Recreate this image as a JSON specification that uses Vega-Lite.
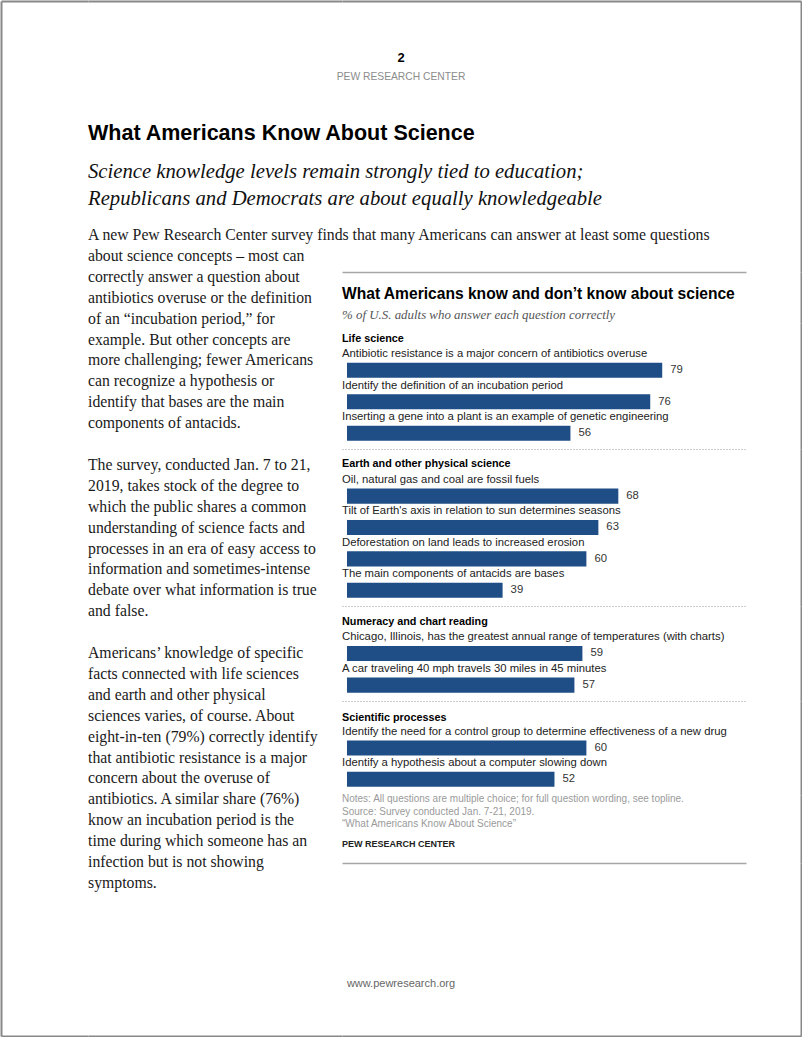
{
  "$schema": "https://vega.github.io/schema/vega-lite/v6.json",
  "padding": 1,
  "background": "white",
  "autosize": {"type": "pad"},
  "datasets": {
    "none": [],
    "body": [
      {"line": 0, "text": "A new Pew Research Center survey finds that many Americans can answer at least some questions"},
      {"line": 1, "text": "about science concepts – most can"},
      {"line": 2, "text": "correctly answer a question about"},
      {"line": 3, "text": "antibiotics overuse or the definition"},
      {"line": 4, "text": "of an “incubation period,” for"},
      {"line": 5, "text": "example. But other concepts are"},
      {"line": 6, "text": "more challenging; fewer Americans"},
      {"line": 7, "text": "can recognize a hypothesis or"},
      {"line": 8, "text": "identify that bases are the main"},
      {"line": 9, "text": "components of antacids."},
      {"line": 11, "text": "The survey, conducted Jan. 7 to 21,"},
      {"line": 12, "text": "2019, takes stock of the degree to"},
      {"line": 13, "text": "which the public shares a common"},
      {"line": 14, "text": "understanding of science facts and"},
      {"line": 15, "text": "processes in an era of easy access to"},
      {"line": 16, "text": "information and sometimes-intense"},
      {"line": 17, "text": "debate over what information is true"},
      {"line": 18, "text": "and false."},
      {"line": 20, "text": "Americans’ knowledge of specific"},
      {"line": 21, "text": "facts connected with life sciences"},
      {"line": 22, "text": "and earth and other physical"},
      {"line": 23, "text": "sciences varies, of course. About"},
      {"line": 24, "text": "eight-in-ten (79%) correctly identify"},
      {"line": 25, "text": "that antibiotic resistance is a major"},
      {"line": 26, "text": "concern about the overuse of"},
      {"line": 27, "text": "antibiotics. A similar share (76%)"},
      {"line": 28, "text": "know an incubation period is the"},
      {"line": 29, "text": "time during which someone has an"},
      {"line": 30, "text": "infection but is not showing"},
      {"line": 31, "text": "symptoms."}
    ],
    "qs": [
      {"group": "Life science", "q": "Antibiotic resistance is a major concern of antibiotics overuse", "value": 79},
      {"group": "Life science", "q": "Identify the definition of an incubation period", "value": 76},
      {"group": "Life science", "q": "Inserting a gene into a plant is an example of genetic engineering", "value": 56},
      {"group": "Earth and other physical science", "q": "Oil, natural gas and coal are fossil fuels", "value": 68},
      {"group": "Earth and other physical science", "q": "Tilt of Earth's axis in relation to sun determines seasons", "value": 63},
      {"group": "Earth and other physical science", "q": "Deforestation on land leads to increased erosion", "value": 60},
      {"group": "Earth and other physical science", "q": "The main components of antacids are bases", "value": 39},
      {"group": "Numeracy and chart reading", "q": "Chicago, Illinois, has the greatest annual range of temperatures (with charts)", "value": 59},
      {"group": "Numeracy and chart reading", "q": "A car traveling 40 mph travels 30 miles in 45 minutes", "value": 57},
      {"group": "Scientific processes", "q": "Identify the need for a control group to determine effectiveness of a new drug", "value": 60},
      {"group": "Scientific processes", "q": "Identify a hypothesis about a computer slowing down", "value": 52}
    ]
  },
  "config": {
    "view": {"stroke": null},
    "title": {"font": "Liberation Sans", "color": "#000000", "subtitleFont": "Liberation Sans"},
    "text": {"font": "Liberation Sans"}
  },
  "title": {"text": "2", "subtitle": "PEW RESEARCH CENTER", "orient": "top", "anchor": "middle", "offset": -81.3, "fontSize": 13, "fontWeight": "bold", "subtitleFontSize": 10.3, "subtitleColor": "#8c8c8c", "subtitlePadding": 7},
  "bounds": "flush",
  "spacing": 0,
  "hconcat": [
    {
      "width": 87, "height": 1035,
      "data": {"name": "none"},
      "layer": [
        {"mark": "rule", "encoding": {
          "x": {"field": "v", "type": "quantitative", "scale": {"domain": [0, 1]}, "axis": {"orient": "top", "domain": true, "domainColor": "#888888", "domainWidth": 2, "ticks": false, "labels": false, "grid": false, "title": null}},
          "y": {"field": "w", "type": "quantitative", "scale": {"domain": [0, 1]}, "axis": {"orient": "left", "domain": true, "domainColor": "#888888", "domainWidth": 2, "ticks": false, "labels": false, "grid": false, "title": null}}
        }},
        {"mark": "rule", "encoding": {
          "x": {"field": "v2", "type": "quantitative", "scale": {"domain": [0, 1]}, "axis": {"orient": "bottom", "domain": true, "domainColor": "#888888", "domainWidth": 2, "ticks": false, "labels": false, "grid": false, "title": null}}
        }}
      ],
      "resolve": {"scale": {"x": "independent"}, "axis": {"x": "independent"}}
    },
    {
      "width": 254, "height": 1035,
      "title": {"text": "What Americans Know About Science", "subtitle": ["Science knowledge levels remain strongly tied to education;", "Republicans and Democrats are about equally knowledgeable"], "orient": "top", "anchor": "start", "frame": "group", "offset": -207.2, "fontSize": 21.5, "fontWeight": "bold", "subtitleFont": "Liberation Serif", "subtitleFontStyle": "italic", "subtitleFontSize": 20.7, "subtitleLineHeight": 27, "subtitlePadding": 17.5, "subtitleColor": "#111111"},
      "layer": [
        {
          "data": {"name": "body"},
          "mark": {"type": "text", "align": "left", "baseline": "middle", "font": "Liberation Serif", "fontSize": 15.75, "color": "#1a1a1a"},
          "encoding": {
            "x": {"datum": 0, "type": "quantitative", "scale": {"domain": [0, 1]}, "axis": {"orient": "top", "domain": true, "domainColor": "#888888", "domainWidth": 2, "ticks": false, "labels": false, "grid": false, "title": null}},
            "y": {"field": "line", "type": "quantitative", "scale": {"domain": [-11.196, 38.325], "reverse": true, "nice": false, "zero": false}, "axis": null},
            "text": {"field": "text"}
          }
        },
        {
          "data": {"name": "none"},
          "mark": "rule",
          "encoding": {
            "x": {"field": "v2", "type": "quantitative", "scale": {"domain": [0, 1]}, "axis": {"orient": "bottom", "domain": true, "domainColor": "#888888", "domainWidth": 2, "ticks": false, "labels": false, "grid": false, "title": null}}
          }
        }
      ],
      "resolve": {"scale": {"x": "independent"}, "axis": {"x": "independent"}}
    },
    {
      "bounds": "flush",
      "spacing": 0,
      "vconcat": [
        {
          "width": 459, "height": 271,
          "data": {"name": "none"},
          "layer": [
            {"mark": "rule", "encoding": {
              "x": {"field": "v", "type": "quantitative", "scale": {"domain": [0, 1]}, "axis": {"orient": "top", "domain": true, "domainColor": "#888888", "domainWidth": 2, "ticks": false, "labels": false, "grid": false, "title": null}},
              "y": {"field": "w", "type": "quantitative", "scale": {"domain": [0, 1]}, "axis": {"orient": "right", "domain": true, "domainColor": "#888888", "domainWidth": 2, "ticks": false, "labels": false, "grid": false, "title": null}}
            }},
            {"mark": "rule", "encoding": {
              "x": {"field": "v2", "type": "quantitative", "scale": {"domain": [0, 1], "range": [0, 404]}, "axis": {"orient": "bottom", "domain": true, "domainColor": "#a6a6a6", "domainWidth": 1.5, "ticks": false, "labels": false, "grid": false, "title": null}}
            }}
          ],
          "resolve": {"scale": {"x": "independent"}, "axis": {"x": "independent"}}
        },
        {
          "width": 459, "height": 51,
          "data": {"name": "none"},
          "mark": "rule",
          "encoding": {
            "y": {"field": "w", "type": "quantitative", "scale": {"domain": [0, 1]}, "axis": {"orient": "right", "domain": true, "domainColor": "#888888", "domainWidth": 2, "ticks": false, "labels": false, "grid": false, "title": null}}
          },
          "title": {"text": "What Americans know and don’t know about science", "subtitle": "% of U.S. adults who answer each question correctly", "orient": "top", "anchor": "start", "frame": "group", "offset": -50.3, "fontSize": 15.6, "fontWeight": "bold", "subtitleFont": "Liberation Serif", "subtitleFontStyle": "italic", "subtitleFontSize": 12.9, "subtitleColor": "#555555", "subtitlePadding": 6.6}
        },
        {
          "width": 459, "height": 126,
          "data": {"name": "qs"},
          "transform": [{"filter": "datum.group === 'Life science'"}],
          "title": {"text": "Life science", "orient": "top", "anchor": "start", "frame": "group", "offset": -21.1, "fontSize": 10.8, "fontWeight": "bold"},
          "encoding": {"y": {"field": "q", "type": "nominal", "sort": null, "scale": {"paddingInner": 0.52, "paddingOuter": 0.76, "align": 0.8289}, "axis": {"orient": "right", "domain": true, "domainColor": "#888888", "domainWidth": 2, "ticks": false, "labels": false, "grid": false, "title": null}}},
          "layer": [
            {"mark": {"type": "bar", "color": "#1f4e86"}, "encoding": {"x": {"field": "value", "type": "quantitative", "scale": {"domain": [-1.25, 100], "range": [0, 404], "nice": false}, "axis": {"orient": "bottom", "domain": true, "domainColor": "#9a9a9a", "domainDash": [1, 2], "domainWidth": 1, "ticks": false, "labels": false, "title": null, "grid": false}}}},
            {"mark": {"type": "text", "align": "left", "baseline": "middle", "dy": -16, "fontSize": 11.3, "color": "#222222"}, "encoding": {"x": {"datum": -1.25, "type": "quantitative"}, "text": {"field": "q"}}},
            {"mark": {"type": "text", "align": "left", "baseline": "middle", "dx": 8, "fontSize": 11.3, "color": "#333333"}, "encoding": {"x": {"field": "value", "type": "quantitative"}, "text": {"field": "value"}}}
          ]
        },
        {
          "width": 459, "height": 157,
          "data": {"name": "qs"},
          "transform": [{"filter": "datum.group === 'Earth and other physical science'"}],
          "title": {"text": "Earth and other physical science", "orient": "top", "anchor": "start", "frame": "group", "offset": -20.1, "fontSize": 10.8, "fontWeight": "bold"},
          "encoding": {"y": {"field": "q", "type": "nominal", "sort": null, "scale": {"paddingInner": 0.52, "paddingOuter": 0.76, "align": 0.8289}, "axis": {"orient": "right", "domain": true, "domainColor": "#888888", "domainWidth": 2, "ticks": false, "labels": false, "grid": false, "title": null}}},
          "layer": [
            {"mark": {"type": "bar", "color": "#1f4e86"}, "encoding": {"x": {"field": "value", "type": "quantitative", "scale": {"domain": [-1.25, 100], "range": [0, 404], "nice": false}, "axis": {"orient": "bottom", "domain": true, "domainColor": "#9a9a9a", "domainDash": [1, 2], "domainWidth": 1, "ticks": false, "labels": false, "title": null, "grid": false}}}},
            {"mark": {"type": "text", "align": "left", "baseline": "middle", "dy": -16, "fontSize": 11.3, "color": "#222222"}, "encoding": {"x": {"datum": -1.25, "type": "quantitative"}, "text": {"field": "q"}}},
            {"mark": {"type": "text", "align": "left", "baseline": "middle", "dx": 8, "fontSize": 11.3, "color": "#333333"}, "encoding": {"x": {"field": "value", "type": "quantitative"}, "text": {"field": "value"}}}
          ]
        },
        {
          "width": 459, "height": 95,
          "data": {"name": "qs"},
          "transform": [{"filter": "datum.group === 'Numeracy and chart reading'"}],
          "title": {"text": "Numeracy and chart reading", "orient": "top", "anchor": "start", "frame": "group", "offset": -21.1, "fontSize": 10.8, "fontWeight": "bold"},
          "encoding": {"y": {"field": "q", "type": "nominal", "sort": null, "scale": {"paddingInner": 0.52, "paddingOuter": 0.76, "align": 0.8289}, "axis": {"orient": "right", "domain": true, "domainColor": "#888888", "domainWidth": 2, "ticks": false, "labels": false, "grid": false, "title": null}}},
          "layer": [
            {"mark": {"type": "bar", "color": "#1f4e86"}, "encoding": {"x": {"field": "value", "type": "quantitative", "scale": {"domain": [-1.25, 100], "range": [0, 404], "nice": false}, "axis": {"orient": "bottom", "domain": true, "domainColor": "#9a9a9a", "domainDash": [1, 2], "domainWidth": 1, "ticks": false, "labels": false, "title": null, "grid": false}}}},
            {"mark": {"type": "text", "align": "left", "baseline": "middle", "dy": -16, "fontSize": 11.3, "color": "#222222"}, "encoding": {"x": {"datum": -1.25, "type": "quantitative"}, "text": {"field": "q"}}},
            {"mark": {"type": "text", "align": "left", "baseline": "middle", "dx": 8, "fontSize": 11.3, "color": "#333333"}, "encoding": {"x": {"field": "value", "type": "quantitative"}, "text": {"field": "value"}}}
          ]
        },
        {
          "width": 459, "height": 94,
          "data": {"name": "qs"},
          "transform": [{"filter": "datum.group === 'Scientific processes'"}],
          "title": {"text": "Scientific processes", "orient": "top", "anchor": "start", "frame": "group", "offset": -22.1, "fontSize": 10.8, "fontWeight": "bold"},
          "encoding": {"y": {"field": "q", "type": "nominal", "sort": null, "scale": {"paddingInner": 0.52, "paddingOuter": 0.76, "align": 0.8289}, "axis": {"orient": "right", "domain": true, "domainColor": "#888888", "domainWidth": 2, "ticks": false, "labels": false, "grid": false, "title": null}}},
          "layer": [
            {"mark": {"type": "bar", "color": "#1f4e86"}, "encoding": {"x": {"field": "value", "type": "quantitative", "scale": {"domain": [-1.25, 100], "range": [0, 404], "nice": false}, "axis": null}}},
            {"mark": {"type": "text", "align": "left", "baseline": "middle", "dy": -16, "fontSize": 11.3, "color": "#222222"}, "encoding": {"x": {"datum": -1.25, "type": "quantitative"}, "text": {"field": "q"}}},
            {"mark": {"type": "text", "align": "left", "baseline": "middle", "dx": 8, "fontSize": 11.3, "color": "#333333"}, "encoding": {"x": {"field": "value", "type": "quantitative"}, "text": {"field": "value"}}}
          ]
        },
        {
          "width": 459, "height": 68,
          "data": {"name": "none"},
          "mark": "rule",
          "encoding": {
            "x": {"field": "v2", "type": "quantitative", "scale": {"domain": [0, 1], "range": [0, 404]}, "axis": {"orient": "bottom", "domain": true, "domainColor": "#a6a6a6", "domainWidth": 1.5, "ticks": false, "labels": false, "grid": false, "title": null}},
            "y": {"field": "w", "type": "quantitative", "scale": {"domain": [0, 1]}, "axis": {"orient": "right", "domain": true, "domainColor": "#888888", "domainWidth": 2, "ticks": false, "labels": false, "grid": false, "title": null}}
          },
          "title": {"text": ["Notes: All questions are multiple choice; for full question wording, see topline.", "Source: Survey conducted Jan. 7-21, 2019.", "“What Americans Know About Science”"], "subtitle": "PEW RESEARCH CENTER", "orient": "top", "anchor": "start", "frame": "group", "offset": -53.9, "fontSize": 10, "fontWeight": "normal", "color": "#9a9a9a", "lineHeight": 12.5, "subtitleFontSize": 9, "subtitleFontWeight": "bold", "subtitleColor": "#222222", "subtitlePadding": 10.6}
        },
        {
          "width": 459, "height": 173,
          "data": {"name": "none"},
          "mark": "rule",
          "encoding": {
            "x": {"field": "v", "type": "quantitative", "scale": {"domain": [0, 1]}, "axis": {"orient": "bottom", "domain": true, "domainColor": "#888888", "domainWidth": 2, "ticks": false, "labels": false, "grid": false, "title": null}},
            "y": {"field": "w", "type": "quantitative", "scale": {"domain": [0, 1]}, "axis": {"orient": "right", "domain": true, "domainColor": "#888888", "domainWidth": 2, "ticks": false, "labels": false, "grid": false, "title": null}}
          },
          "title": {"text": "www.pewresearch.org", "orient": "top", "anchor": "middle", "frame": "group", "dx": -170.5, "offset": -126, "fontSize": 11, "fontWeight": "normal", "color": "#666666"}
        }
      ]
    }
  ]
}
